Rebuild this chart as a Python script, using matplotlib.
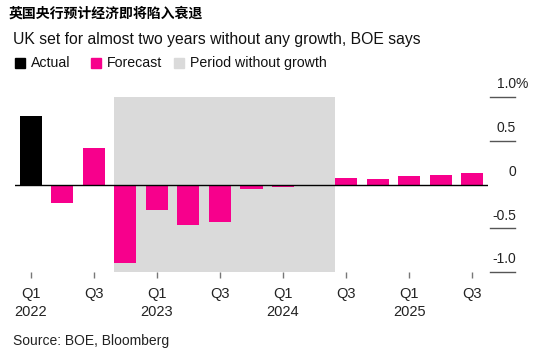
import matplotlib
matplotlib.use('Agg')
import matplotlib.pyplot as plt
from matplotlib.patches import Rectangle

plt.rcParams['font.family'] = ['Liberation Sans', 'DejaVu Sans']

# quarterly GDP growth, % q/q (Q1 2022 .. Q3 2025)
quarters = ['Q1 2022', 'Q2 2022', 'Q3 2022', 'Q4 2022',
            'Q1 2023', 'Q2 2023', 'Q3 2023', 'Q4 2023',
            'Q1 2024', 'Q2 2024', 'Q3 2024', 'Q4 2024',
            'Q1 2025', 'Q2 2025', 'Q3 2025']
growth = [0.78, -0.21, 0.42, -0.90, -0.29, -0.46, -0.43, -0.05,
          -0.03, -0.02, 0.08, 0.06, 0.10, 0.11, 0.13]
is_actual = [True] + [False] * 14
no_growth_start = 'Q4 2022'
no_growth_end = 'Q2 2024'

tick_labels = ['Q1\n2022', 'Q3', 'Q1\n2023', 'Q3', 'Q1\n2024', 'Q3', 'Q1\n2025', 'Q3']
y_ticks = [1.0, 0.5, 0, -0.5, -1.0]
y_tick_labels = ['1.0', '0.5', '0', '-0.5', '-1.0']

pink = '#f7008c'
grey_shade = '#dadada'

W, H = 554, 356
fig = plt.figure(figsize=(W / 100, H / 100), dpi=100)
ax = fig.add_axes([15 / W, (H - 272) / H, 473 / W, 175 / H])

xs = list(range(len(quarters)))
i0 = quarters.index(no_growth_start)
i1 = quarters.index(no_growth_end)
ax.axvspan(i0 - 0.35, i1 + 1 - 0.35, color=grey_shade, lw=0, zorder=0)

colors = ['black' if a else pink for a in is_actual]
ax.bar(xs, growth, width=0.7, color=colors, zorder=2)
ax.axhline(0, color='black', lw=1, zorder=3)

ax.set_xlim(-0.5, len(quarters) - 0.5)
ax.set_ylim(-1.0, 1.0)
for s in ax.spines.values():
    s.set_visible(False)

ax.set_xticks(xs[::2])
ax.set_xticklabels(tick_labels, fontsize=10.5, linespacing=1.3, color='#222222')
ax.tick_params(axis='x', length=4, width=1, color='#777777', pad=7)
ax.set_yticks([])

# right-hand value labels with short rules
for v, lab in zip(y_ticks, y_tick_labels):
    if v != 0:
        ax.plot([1.004, 1.057], [v, v], transform=ax.get_yaxis_transform(),
                color='#555555', lw=1, clip_on=False)
    ax.annotate(lab, xy=(1.059, v), xycoords=ax.get_yaxis_transform(),
                xytext=(0, 4), textcoords='offset points',
                ha='right', va='bottom', fontsize=10, color='#222222')
ax.annotate('%', xy=(1.059, 1.0), xycoords=ax.get_yaxis_transform(),
            xytext=(0, 4), textcoords='offset points',
            ha='left', va='bottom', fontsize=10, color='#222222')

fig.text(9 / W, 0.961, '英国央行预计经济即将陷入衰退', fontsize=10, fontweight='bold',
         family=['Noto Sans CJK SC', 'DejaVu Sans'], va='center', ha='left')
fig.text(13 / W, 0.888, 'UK set for almost two years without any growth, BOE says',
         fontsize=11.3, va='center', ha='left', color='#111111')

# legend
legend_items = [('Actual', 'black', 15), ('Forecast', pink, 91),
                ('Period without growth', grey_shade, 174)]
for lab, c, x in legend_items:
    fig.patches.append(Rectangle((x / W, (H - 68) / H), 10 / W, 10 / H,
                                 transform=fig.transFigure, color=c))
    fig.text((x + 16) / W, (H - 63) / H, lab, fontsize=10.2, va='center', ha='left',
             color='#111111')

fig.text(13 / W, (H - 341) / H, 'Source: BOE, Bloomberg', fontsize=10, va='center',
         ha='left', color='#222222')

fig.savefig('out.png', dpi=100)
